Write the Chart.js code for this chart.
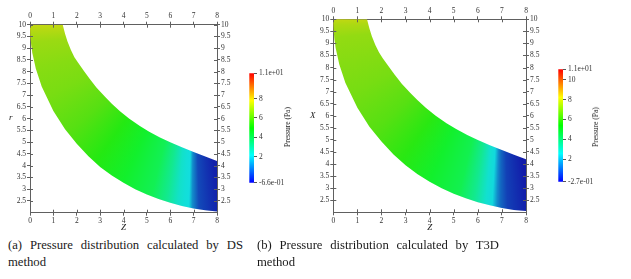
<!DOCTYPE html>
<html>
<head>
<meta charset="utf-8">
<script src="https://cdn.jsdelivr.net/npm/chart.js@4.4.0/dist/chart.umd.min.js"></script>
<style>
  body { margin: 0; background: #fff; }
  #wrap { position: relative; width: 631px; height: 279px; overflow: hidden; font-family: "Liberation Serif", serif; color: #222; }
  #wrap canvas { position: absolute; }
  .ax { position: absolute; font-style: italic; font-size: 9px; line-height: 10px; }
  .cbt { position: absolute; font-size: 7.5px; line-height: 8px; white-space: nowrap; transform: translate(-50%, -50%) rotate(-90deg); }
  .cap { position: absolute; font-size: 12.7px; line-height: 17px; text-align: justify; text-align-last: left; color: #1a1a1a; }
</style>
</head>
<body>
<div id="wrap">
  <canvas id="plotA" width="250" height="233" style="left:0;top:0"></canvas>
  <canvas id="barA" width="60" height="135" style="left:240px;top:60px"></canvas>
  <canvas id="plotB" width="255" height="233" style="left:305px;top:0"></canvas>
  <canvas id="barB" width="60" height="135" style="left:549px;top:60px"></canvas>

  <div class="ax" style="left:9px;top:112px">r</div>
  <div class="ax" style="left:310px;top:110px">X</div>
  <div class="cbt" style="left:288px;top:127px">Pressure (Pa)</div>
  <div class="cbt" style="left:596px;top:127px">Pressure (Pa)</div>

  <div class="cap" style="left:8px;top:237px;width:235px">(a) Pressure distribution calculated by DS method</div>
  <div class="cap" style="left:257px;top:237px;width:242px">(b) Pressure distribution calculated by T3D method</div>
</div>
<script>
// duct outline (z, r)
const outerZ = [0, 0.02, 0.05, 0.1, 0.25, 0.5, 1, 1.5, 2, 2.5, 3, 3.5, 4, 4.5, 5, 5.5, 6, 6.5, 7, 7.5, 8];
const outerR = [10, 9.47, 9.16, 8.8, 8.13, 7.37, 6.33, 5.55, 4.93, 4.4, 3.95, 3.58, 3.27, 3.0, 2.77, 2.58, 2.42, 2.29, 2.18, 2.1, 2.05];
const innerZ = [1.4, 1.5, 1.6, 1.75, 1.9, 2.06, 2.3, 2.55, 2.85, 3.2, 3.5, 3.85, 4.25, 4.7, 5.1, 5.56, 6.0, 6.5, 7.0, 7.5, 8.0];
const innerR = [10, 9.62, 9.3, 8.92, 8.62, 8.38, 8.04, 7.7, 7.32, 6.94, 6.64, 6.32, 6.0, 5.69, 5.45, 5.2, 5.0, 4.78, 4.58, 4.39, 4.2];

// pressure along the bend, stations given as angle (deg) around z=7, r=10
const bendZ = 7, bendR = 10;
const stationDeg = [81.8, 84.9, 88.3, 90.4, 91.5, 93, 95, 98.7, 103.8, 114.1, 125.5, 139.1, 153.9, 164.2, 173.7, 178.2, 180];
const pressureDS = [-0.38, -0.1, 0.28, 1.22, 2.15, 2.27, 2.5, 3.33, 4.13, 4.64, 5.2, 5.9, 6.4, 6.6, 6.9, 7.3, 7.5];
const pressureT3D = [-0.08, 0.2, 0.53, 1.1, 1.6, 2.5, 2.8, 3.74, 4.6, 5.06, 5.7, 6.33, 6.8, 7.0, 7.2, 7.6, 7.9];
// peak at the outer wall corner (z=0, r=10)
const cornerDS = 9.2;
const cornerT3D = 8.5;

// colour bar ranges and labels
const rangeDS = [-0.66, 10.6];
const rangeT3D = [-0.27, 11.05];
const cbTicksDS = [-0.66, 2, 4, 6, 8, 10.6];
const cbLabelsDS = ['-6.6e-01', '2', '4', '6', '8', '1.1e+01'];
const cbTicksT3D = [-0.27, 2, 4, 6, 8, 10, 11.05];
const cbLabelsT3D = ['-2.7e-01', '2', '4', '6', '8', '10', '1.1e+01'];

// axis ticks
const zTicks = [0, 1, 2, 3, 4, 5, 6, 7, 8];
const rTicks = [2.5, 3, 3.5, 4, 4.5, 5, 5.5, 6, 6.5, 7, 7.5, 8, 8.5, 9, 9.5, 10];

const axisColor = '#606060';
const tickFont = { family: 'Liberation Serif', size: 7.5 };

const cmapStops = [[0, [0, 0, 255]], [0.25, [0, 255, 255]], [0.5, [0, 255, 0]], [0.75, [255, 255, 0]], [1, [255, 0, 0]]];
// brightness of the lit surface against the colour bar
const shadeStops = [[0, 0.58], [0.25, 0.8], [0.45, 0.88], [0.6, 0.8], [1, 0.72]];

function lerpStops(stops, t) {
    t = Math.max(0, Math.min(1, t));
    for (let i = 1; i < stops.length; i++) {
        if (t <= stops[i][0]) {
            const [t0, c0] = stops[i - 1];
            const [t1, c1] = stops[i];
            const f = (t - t0) / (t1 - t0);
            return Array.isArray(c0) ? c0.map((v, j) => v + (c1[j] - v) * f) : c0 + (c1 - c0) * f;
        }
    }
}
function cmap(t) {
    return `rgb(${lerpStops(cmapStops, t).map(Math.round).join(',')})`;
}
function surface(t, alpha = 1) {
    const k = lerpStops(shadeStops, t);
    const c = lerpStops(cmapStops, t).map(v => Math.min(255, Math.round(v * k + 18)));
    return `rgba(${c.join(',')},${alpha})`;
}

const bandPoints = outerZ.map((z, i) => ({ x: z, y: outerR[i] }))
    .concat(innerZ.map((z, i) => ({ x: z, y: innerR[i] })).reverse());

// small "+" ticks: chart.js draws the outer half, this draws the inner half
const innerTicks = {
    id: 'innerTicks',
    afterDraw(chart) {
        const { ctx, chartArea: a } = chart;
        ctx.save();
        ctx.strokeStyle = axisColor;
        ctx.lineWidth = 1;
        ['x', 'x2', 'y', 'y2'].forEach(id => {
            const s = chart.scales[id];
            s.ticks.forEach((t, i) => {
                const p = Math.round(s.getPixelForTick(i)) + 0.5;
                ctx.beginPath();
                if (id === 'x') { ctx.moveTo(p, a.bottom); ctx.lineTo(p, a.bottom - 3); }
                if (id === 'x2') { ctx.moveTo(p, a.top); ctx.lineTo(p, a.top + 3); }
                if (id === 'y') { ctx.moveTo(a.left, p); ctx.lineTo(a.left + 3, p); }
                if (id === 'y2') { ctx.moveTo(a.right, p); ctx.lineTo(a.right - 3, p); }
                ctx.stroke();
            });
        });
        ctx.restore();
    }
};

function axis(position, min, max, ticks, size, title) {
    const horizontal = position === 'top' || position === 'bottom';
    return {
        type: 'linear',
        position: position,
        min: min,
        max: max,
        afterBuildTicks: s => { s.ticks = ticks.map(v => ({ value: v })); },
        afterFit: s => { if (horizontal) s.height = size; else s.width = size; },
        ticks: { font: tickFont, color: '#333', padding: 1, maxRotation: 0, autoSkip: false, callback: v => `${v}` },
        grid: { drawOnChartArea: false, tickLength: 3, color: axisColor },
        border: { color: axisColor },
        title: title ? { display: true, text: title, font: { family: 'Liberation Serif', size: 9, style: 'italic' }, color: '#222', padding: 0 } : { display: false },
    };
}

function bandLayer(paint) {
    return {
        data: bandPoints,
        showLine: true,
        fill: 'shape',
        borderWidth: 0,
        pointRadius: 0,
        backgroundColor: c => {
            const chart = c.chart;
            const { x, y } = chart.scales;
            if (!chart.chartArea || !x) return 'rgba(0,0,0,0)';
            return paint(chart.ctx, x, y);
        },
    };
}

function makePlot(id, pressure, corner, range, sizes) {
    const norm = v => (v - range[0]) / (range[1] - range[0]);
    new Chart(document.getElementById(id), {
        type: 'scatter',
        data: {
            datasets: [
                // pressure along the bend
                bandLayer((ctx, x, y) => {
                    const g = ctx.createConicGradient(0, x.getPixelForValue(bendZ), y.getPixelForValue(bendR));
                    stationDeg.forEach((a, i) => g.addColorStop(a / 360, surface(norm(pressure[i]))));
                    return g;
                }),
                // lighter towards the inner wall, deeper towards the outer wall
                bandLayer((ctx, x, y) => {
                    const cx = x.getPixelForValue(bendZ), cy = y.getPixelForValue(bendR);
                    const unit = x.getPixelForValue(1) - x.getPixelForValue(0);
                    const g = ctx.createRadialGradient(cx, cy, 4.8 * unit, cx, cy, 8.1 * unit);
                    g.addColorStop(0, 'rgba(255,255,255,0.14)');
                    g.addColorStop(0.45, 'rgba(255,255,255,0)');
                    g.addColorStop(1, 'rgba(0,0,0,0.1)');
                    return g;
                }),
                // hot spot at the outer corner
                bandLayer((ctx, x, y) => {
                    const cx = x.getPixelForValue(0), cy = y.getPixelForValue(10);
                    const rad = x.getPixelForValue(1.4) - cx;
                    const g = ctx.createRadialGradient(cx, cy, 0, cx, cy, rad);
                    g.addColorStop(0, surface(norm(corner), 0.95));
                    g.addColorStop(0.45, surface(norm(corner), 0.4));
                    g.addColorStop(1, surface(norm(corner), 0));
                    return g;
                }),
            ],
        },
        options: {
            responsive: false,
            animation: false,
            devicePixelRatio: 1,
            layout: { padding: 0 },
            plugins: { legend: { display: false }, tooltip: { enabled: false } },
            scales: {
                x: axis('bottom', 0, 8, zTicks, sizes[3], 'Z'),
                x2: axis('top', 0, 8, zTicks, sizes[1]),
                y: axis('left', 2, 10, rTicks, sizes[0]),
                y2: axis('right', 2, 10, rTicks, sizes[2]),
            },
        },
        plugins: [innerTicks],
    });
}

function makeBar(id, range, ticks, labels, pad) {
    new Chart(document.getElementById(id), {
        type: 'bar',
        data: {
            labels: [''],
            datasets: [{
                data: [range],
                barPercentage: 1,
                categoryPercentage: 1,
                borderWidth: 0,
                backgroundColor: c => {
                    const chart = c.chart;
                    const y = chart.scales.y;
                    if (!chart.chartArea || !y) return 'rgba(0,0,0,0)';
                    const g = chart.ctx.createLinearGradient(0, y.getPixelForValue(range[0]), 0, y.getPixelForValue(range[1]));
                    cmapStops.forEach(s => g.addColorStop(s[0], cmap(s[0])));
                    return g;
                },
            }],
        },
        options: {
            responsive: false,
            animation: false,
            devicePixelRatio: 1,
            layout: { padding: { left: pad[0], top: pad[1], right: 0, bottom: pad[2] } },
            plugins: { legend: { display: false }, tooltip: { enabled: false } },
            scales: {
                x: { display: false },
                y: {
                    position: 'right',
                    min: range[0],
                    max: range[1],
                    afterBuildTicks: s => { s.ticks = ticks.map(v => ({ value: v })); },
                    afterFit: s => { s.width = pad[3]; },
                    ticks: { font: tickFont, color: '#333', padding: 2, callback: (v, i) => labels[i] },
                    grid: { drawOnChartArea: false, tickLength: 3, color: '#555' },
                    border: { display: false },
                },
            },
        },
    });
}

// sizes: left, top, right, bottom axis boxes
makePlot('plotA', pressureDS, cornerDS, rangeDS, [30, 24.7, 33, 20.3]);
makePlot('plotB', pressureT3D, cornerT3D, rangeT3D, [28.3, 19.3, 34, 20.7]);
makeBar('barA', rangeDS, cbTicksDS, cbLabelsDS, [9.3, 13.3, 12.3, 46]);
makeBar('barB', rangeT3D, cbTicksT3D, cbLabelsT3D, [9.3, 9.3, 13.3, 46]);
</script>
</body>
</html>
